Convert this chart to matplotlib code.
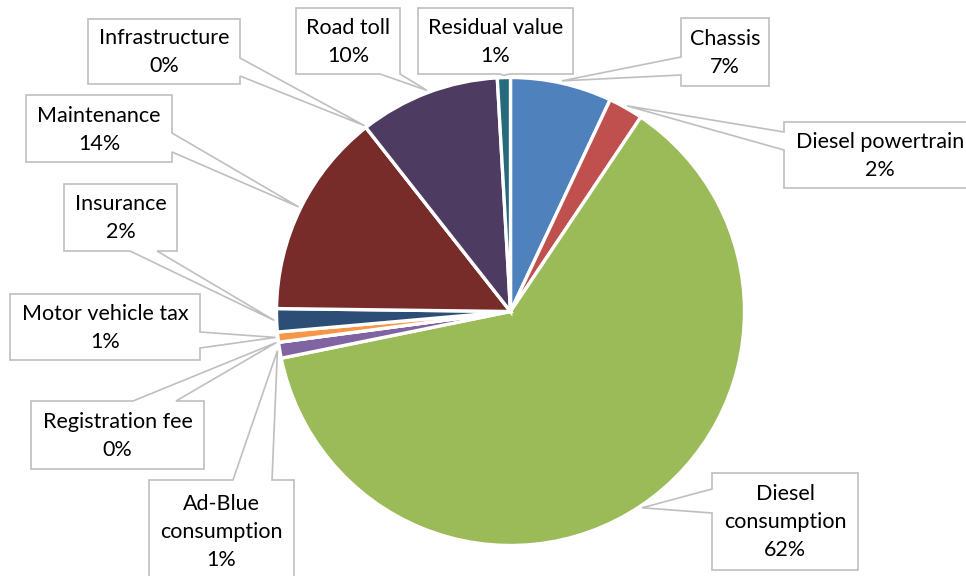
"""Cost share breakdown of a diesel truck, drawn as a pie with callout labels."""

import matplotlib
matplotlib.use("Agg")
import matplotlib.pyplot as plt
from matplotlib.patches import Polygon
import numpy as np

# Data (shares in percent, clockwise from 12 o'clock)
CATEGORIES = [
    "Chassis", "Diesel powertrain", "Diesel\nconsumption", "Ad-Blue\nconsumption",
    "Registration fee", "Motor vehicle tax", "Insurance", "Maintenance",
    "Infrastructure", "Road toll", "Residual value",
]
SHARES = [7.0, 2.4, 62.4, 1.1, 0.0, 0.7, 1.6, 14.2, 0.0, 9.7, 0.9]
COLORS = [
    "#4F81BD", "#C0504D", "#9BBB59", "#8064A2", "#4BACC6", "#F79646",
    "#2C4D75", "#772C2A", "#5F7530", "#4D3B62", "#276A7C",
]

# Layout in pixel units (origin top-left), figure is 966 x 576
W, H = 966, 576
CX, CY, R = 510.5, 311.5, 234

# box: (x0, y0, x1, y1); base: (side, a, b) where the pointer leaves the box
BOXES = [
    ((681, 18, 769, 86), ("left", 57, 75)),
    ((784, 122, 976, 188), ("left", 132, 150)),
    ((712, 473, 858, 570), ("left", 489, 513)),
    ((149, 480, 294, 582), ("top", 233, 272)),
    ((31, 401, 204, 469), ("top", 133, 176)),
    ((10, 294, 200, 360), ("right", 332, 348)),
    ((64, 184, 177, 251), ("bottom", 130, 157)),
    ((26, 95, 172, 162), ("right", 133, 152)),
    ((88, 19, 240, 84), ("right", 58, 76)),
    ((296, 8, 400, 74), ("bottom", 380, 400)),
    ((418, 8, 573, 74), ("bottom", 500, 510)),
]

EDGE = "#BFBFBF"
FONT = "Lato"


def to_data(x, y):
    return x, H - y


def callout_polygon(box, base, tip):
    x0, y0, x1, y1 = box
    side, a, b = base
    tl, tr, br, bl = (x0, y0), (x1, y0), (x1, y1), (x0, y1)
    if side == "top":
        pts = [tl, (a, y0), tip, (b, y0), tr, br, bl]
    elif side == "right":
        pts = [tl, tr, (x1, a), tip, (x1, b), br, bl]
    elif side == "bottom":
        pts = [tl, tr, br, (b, y1), tip, (a, y1), bl]
    else:
        pts = [tl, tr, br, bl, (x0, b), tip, (x0, a)]
    return [to_data(px, py) for px, py in pts]


fig = plt.figure(figsize=(W / 100, H / 100), dpi=100)
ax = fig.add_axes([0, 0, 1, 1])

wedges, _ = ax.pie(
    SHARES, colors=COLORS, startangle=90, counterclock=False,
    center=to_data(CX, CY), radius=R, frame=True,
    wedgeprops=dict(edgecolor="white", linewidth=2.4),
)

ax.set_xlim(0, W)
ax.set_ylim(0, H)
ax.set_aspect("equal")
ax.axis("off")

for wedge, name, share, (box, base) in zip(wedges, CATEGORIES, SHARES, BOXES):
    mid = np.deg2rad((wedge.theta1 + wedge.theta2) / 2)
    tip_x = CX + R * 1.01 * np.cos(mid)
    tip_y = CY - R * 1.01 * np.sin(mid)
    poly = Polygon(callout_polygon(box, base, (tip_x, tip_y)), closed=True,
                   facecolor="white", edgecolor=EDGE, linewidth=1.2,
                   zorder=3, clip_on=False)
    ax.add_patch(poly)
    x0, y0, x1, y1 = box
    label = f"{name}\n{int(share + 0.5)}%"
    ax.text(*to_data((x0 + x1) / 2, (y0 + y1) / 2 + 1), label,
            ha="center", va="center", fontsize=15.5, family=FONT,
            linespacing=1.5, color="black", zorder=4)

fig.savefig("out.png", dpi=100)
